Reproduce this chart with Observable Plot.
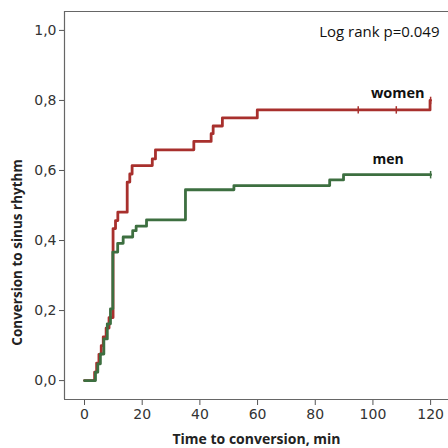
<!DOCTYPE html>
<html>
<head>
<meta charset="utf-8">
<script src="https://cdn.jsdelivr.net/npm/d3@7"></script>
<script src="https://cdn.jsdelivr.net/npm/@observablehq/plot@0.6"></script>
<style>
  html, body { margin: 0; padding: 0; background: #fff; }
  #chart svg { display: block; }
</style>
</head>
<body>
<div id="chart"></div>
<script>
// Kaplan–Meier style cumulative conversion
const womenTime  = [0, 3.5, 4.2, 5.0, 5.8, 6.5, 7.5, 8.5, 9.9, 10.75, 11.55, 14.8, 15.7, 16.5, 23.5, 24.6, 37.9, 43.9, 44.6, 47.8, 59.9, 119.8, 120];
const womenValue = [0, 0.024, 0.05, 0.075, 0.1, 0.125, 0.15, 0.18, 0.434, 0.457, 0.481, 0.567, 0.59, 0.614, 0.633, 0.659, 0.683, 0.705, 0.727, 0.75, 0.773, 0.80, 0.80];
const menTime    = [0, 3.8, 4.6, 5.5, 6.7, 7.9, 9.0, 9.8, 11.5, 13.4, 16.7, 17.9, 21.5, 35, 51.8, 85, 89.8, 120];
const menValue   = [0, 0.024, 0.048, 0.076, 0.119, 0.162, 0.205, 0.367, 0.392, 0.41, 0.428, 0.441, 0.459, 0.545, 0.557, 0.573, 0.588, 0.588];
const womenCensorTime  = [94.9, 108.1, 120];
const womenCensorValue = [0.773, 0.773, 0.80];
const menCensorTime    = [120];
const menCensorValue   = [0.588];
const xTicks = [0, 20, 40, 60, 80, 100, 120];
const yTicks = [0, 0.2, 0.4, 0.6, 0.8, 1.0];
const seriesNames = ["women", "men"];
const pValueLabel = "Log rank p=0.049";
const xTitle = "Time to conversion, min";
const yTitle = "Conversion to sinus rhythm";

const RED = "#a8302d";
const GREEN = "#3d6f40";

const women = womenTime.map((t, i) => ({t, v: womenValue[i]}));
const men = menTime.map((t, i) => ({t, v: menValue[i]}));
const womenC = womenCensorTime.map((t, i) => ({t, v: womenCensorValue[i]}));
const menC = menCensorTime.map((t, i) => ({t, v: menCensorValue[i]}));

const vtick = {
  draw(ctx, size) {
    const r = Math.sqrt(size);
    ctx.moveTo(0, -r);
    ctx.lineTo(0, r);
  }
};

const chart = Plot.plot({
  width: 448,
  height: 448,
  marginLeft: 64,
  marginRight: 0,
  marginTop: 11,
  marginBottom: 49,
  style: {fontFamily: "DejaVu Sans, sans-serif", fontSize: "13px", color: "#333", background: "#fff"},
  x: {domain: [-6.94, 126.2]},
  y: {domain: [-0.054, 1.054]},
  marks: [
    Plot.axisY({ticks: yTicks, tickFormat: d => d.toFixed(1).replace(".", ","), tickSize: 5, tickPadding: 3, label: null, fontSize: 14, stroke: "#555"}),
    Plot.axisX({ticks: xTicks, tickFormat: d => String(d), tickSize: 6, tickPadding: 4, label: null, fontSize: 14, stroke: "#555"}),
    Plot.ruleY([1.054], {stroke: "#666", strokeWidth: 1.2}),
    Plot.ruleY([-0.054], {stroke: "#666", strokeWidth: 1.2}),
    Plot.ruleX([-6.94], {stroke: "#666", strokeWidth: 1.2}),
    Plot.line(women, {x: "t", y: "v", curve: "step-after", stroke: RED, strokeWidth: 2.8}),
    Plot.dot(womenC, {x: "t", y: "v", symbol: vtick, r: 2.1, stroke: RED, strokeWidth: 1.5, fill: "none"}),
    Plot.line(men, {x: "t", y: "v", curve: "step-after", stroke: GREEN, strokeWidth: 2.8}),
    Plot.dot(menC, {x: "t", y: "v", symbol: vtick, r: 2.1, stroke: GREEN, strokeWidth: 1.5, fill: "none"}),
    Plot.text([seriesNames[0]], {x: () => womenTime[womenTime.length - 1], y: () => womenValue[womenValue.length - 1], text: d => d, textAnchor: "end", lineAnchor: "bottom", dx: -6, dy: -2, fontWeight: "bold", fontFamily: "Open Sans, sans-serif", fontSize: 14.5, fill: "#111"}),
    Plot.text([seriesNames[1]], {x: () => menTime[menTime.length - 1], y: () => menValue[menValue.length - 1], text: d => d, textAnchor: "end", lineAnchor: "bottom", dx: -27, dy: -11, fontWeight: "bold", fontFamily: "Open Sans, sans-serif", fontSize: 14, fill: "#111"}),
    Plot.text([pValueLabel], {frameAnchor: "top-right", text: d => d, textAnchor: "end", lineAnchor: "bottom", dx: -9, dy: 25, fontFamily: "Open Sans, sans-serif", fontSize: 15, fill: "#111"}),
    Plot.text([xTitle], {frameAnchor: "bottom", text: d => d, lineAnchor: "bottom", dy: 44, fontWeight: "bold", fontFamily: "Open Sans, sans-serif", fontSize: 14, fill: "#222"}),
    Plot.text([yTitle], {frameAnchor: "left", text: d => d, rotate: -90, textAnchor: "middle", lineAnchor: "middle", dx: -47, dy: 47, fontWeight: "bold", fontFamily: "Open Sans, sans-serif", fontSize: 13.5, fill: "#222"})
  ]
});
document.getElementById("chart").appendChild(chart);
</script>
</body>
</html>
